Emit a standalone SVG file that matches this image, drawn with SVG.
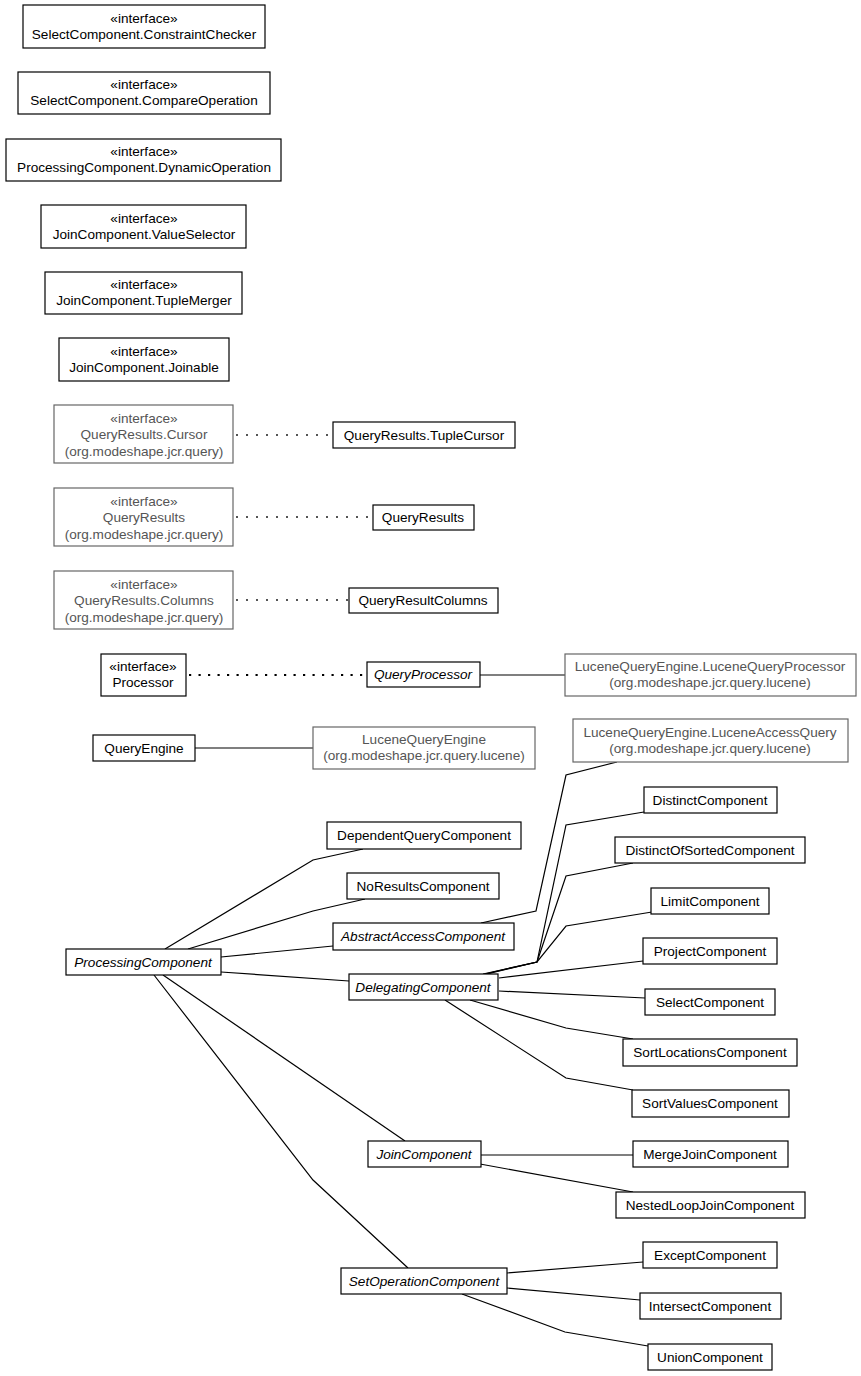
<svg xmlns="http://www.w3.org/2000/svg" width="861" height="1376" viewBox="0 0 861 1376">
<style>
text{font-family:"Liberation Sans",Arial,sans-serif;font-size:13.6px;text-anchor:middle;fill:#000}
.b{fill:#fff;stroke:#000;stroke-width:1.2}
.g{fill:#fff;stroke:#666;stroke-width:1.2}
.gt{fill:#555}
.i{font-style:italic}
.c{fill:none;stroke:#000;stroke-width:1.2}
.d{fill:none;stroke:#555;stroke-width:2;stroke-dasharray:2,8}
.d2{fill:none;stroke:#000;stroke-width:2.2;stroke-dasharray:2.2,7.3}
</style>
<rect width="861" height="1376" fill="#fff"/>
<g id="connectors">
<path class="d" d="M236,435H333"/>
<path class="d" d="M236,517H373"/>
<path class="d" d="M236,600H349"/>
<path class="d2" d="M189,675H367"/>
<path class="c" d="M480,675H565"/>
<path class="c" d="M195,748H313"/>
<path class="c" d="M165,949L313,860L363,849"/>
<path class="c" d="M188,949L313,911L365,899"/>
<path class="c" d="M221,957L333,946"/>
<path class="c" d="M221,972L349,981"/>
<path class="c" d="M163,975L405,1141"/>
<path class="c" d="M154,975L313,1180L408,1268"/>
<path class="c" d="M481,923L536,911L566,775L617,762"/>
<path class="c" d="M483,974L537,962L566,825L644,812"/>
<path class="c" d="M485,974L537,962L566,876L633,863"/>
<path class="c" d="M487,974L537,962L566,926L652,912"/>
<path class="c" d="M499,978L643,961"/>
<path class="c" d="M499,991L645,998"/>
<path class="c" d="M470,1000L566,1028L633,1039"/>
<path class="c" d="M445,1000L566,1078L633,1090"/>
<path class="c" d="M481,1155H633"/>
<path class="c" d="M480,1164L633,1192"/>
<path class="c" d="M507,1273L643,1262"/>
<path class="c" d="M507,1288L640,1300"/>
<path class="c" d="M462,1294L565,1332L648,1346"/>
</g>
<g id="n1"><rect class="b" x="23" y="5" width="242" height="43"/><text x="144" y="22.5">«interface»</text><text x="144" y="38.5">SelectComponent.ConstraintChecker</text></g>
<g id="n2"><rect class="b" x="18" y="72" width="252" height="42"/><text x="144" y="89">«interface»</text><text x="144" y="105">SelectComponent.CompareOperation</text></g>
<g id="n3"><rect class="b" x="6" y="139" width="275" height="42"/><text x="144" y="156">«interface»</text><text x="144" y="172">ProcessingComponent.DynamicOperation</text></g>
<g id="n4"><rect class="b" x="41" y="205" width="205" height="43"/><text x="144" y="222.5">«interface»</text><text x="144" y="238.5">JoinComponent.ValueSelector</text></g>
<g id="n5"><rect class="b" x="45" y="272" width="197" height="42"/><text x="144" y="289">«interface»</text><text x="144" y="305">JoinComponent.TupleMerger</text></g>
<g id="n6"><rect class="b" x="59" y="338" width="170" height="43"/><text x="144" y="355.5">«interface»</text><text x="144" y="371.5">JoinComponent.Joinable</text></g>
<g id="n7"><rect class="g" x="54" y="405" width="179" height="58"/><text class="gt" x="144" y="422.5">«interface»</text><text class="gt" x="144" y="439">QueryResults.Cursor</text><text class="gt" x="144" y="455.5">(org.modeshape.jcr.query)</text></g>
<g id="n8"><rect class="b" x="333" y="422" width="182" height="26"/><text x="424" y="439.5">QueryResults.TupleCursor</text></g>
<g id="n9"><rect class="g" x="54" y="488" width="179" height="58"/><text class="gt" x="144" y="505.5">«interface»</text><text class="gt" x="144" y="522">QueryResults</text><text class="gt" x="144" y="538.5">(org.modeshape.jcr.query)</text></g>
<g id="n10"><rect class="b" x="373" y="505" width="101" height="25"/><text x="423" y="522">QueryResults</text></g>
<g id="n11"><rect class="g" x="54" y="571" width="179" height="58"/><text class="gt" x="144" y="588.5">«interface»</text><text class="gt" x="144" y="605">QueryResults.Columns</text><text class="gt" x="144" y="621.5">(org.modeshape.jcr.query)</text></g>
<g id="n12"><rect class="b" x="349" y="588" width="149" height="25"/><text x="423" y="605">QueryResultColumns</text></g>
<g id="n13"><rect class="b" x="101" y="654" width="85" height="42"/><text x="143" y="671">«interface»</text><text x="143" y="687">Processor</text></g>
<g id="n14"><rect class="b" x="367" y="662" width="113" height="25"/><text class="i" x="423" y="679">QueryProcessor</text></g>
<g id="n15"><rect class="g" x="565" y="654" width="291" height="42"/><text class="gt" x="710" y="671">LuceneQueryEngine.LuceneQueryProcessor</text><text class="gt" x="710" y="687">(org.modeshape.jcr.query.lucene)</text></g>
<g id="n16"><rect class="b" x="93" y="735" width="102" height="26"/><text x="144" y="752.5">QueryEngine</text></g>
<g id="n17"><rect class="g" x="313" y="727" width="222" height="42"/><text class="gt" x="424" y="744">LuceneQueryEngine</text><text class="gt" x="424" y="760">(org.modeshape.jcr.query.lucene)</text></g>
<g id="n18"><rect class="g" x="573" y="719" width="275" height="43"/><text class="gt" x="710" y="736.5">LuceneQueryEngine.LuceneAccessQuery</text><text class="gt" x="710" y="752.5">(org.modeshape.jcr.query.lucene)</text></g>
<g id="n19"><rect class="b" x="644" y="787" width="133" height="26"/><text x="710" y="804.5">DistinctComponent</text></g>
<g id="n20"><rect class="b" x="327" y="822" width="194" height="27"/><text x="424" y="840">DependentQueryComponent</text></g>
<g id="n21"><rect class="b" x="615" y="837" width="190" height="26"/><text x="710" y="854.5">DistinctOfSortedComponent</text></g>
<g id="n22"><rect class="b" x="347" y="873" width="152" height="26"/><text x="423" y="890.5">NoResultsComponent</text></g>
<g id="n23"><rect class="b" x="651" y="888" width="118" height="26"/><text x="710" y="905.5">LimitComponent</text></g>
<g id="n24"><rect class="b" x="333" y="923" width="181" height="27"/><text class="i" x="423" y="941">AbstractAccessComponent</text></g>
<g id="n25"><rect class="b" x="643" y="938" width="134" height="26"/><text x="710" y="955.5">ProjectComponent</text></g>
<g id="n26"><rect class="b" x="66" y="949" width="155" height="26"/><text class="i" x="143" y="966.5">ProcessingComponent</text></g>
<g id="n27"><rect class="b" x="349" y="974" width="149" height="26"/><text class="i" x="423" y="991.5">DelegatingComponent</text></g>
<g id="n28"><rect class="b" x="645" y="989" width="130" height="26"/><text x="710" y="1006.5">SelectComponent</text></g>
<g id="n29"><rect class="b" x="623" y="1039" width="174" height="27"/><text x="710" y="1057">SortLocationsComponent</text></g>
<g id="n30"><rect class="b" x="632" y="1090" width="157" height="27"/><text x="710" y="1108">SortValuesComponent</text></g>
<g id="n31"><rect class="b" x="368" y="1141" width="113" height="26"/><text class="i" x="424" y="1158.5">JoinComponent</text></g>
<g id="n32"><rect class="b" x="633" y="1141" width="155" height="26"/><text x="710" y="1158.5">MergeJoinComponent</text></g>
<g id="n33"><rect class="b" x="616" y="1192" width="189" height="26"/><text x="710" y="1209.5">NestedLoopJoinComponent</text></g>
<g id="n34"><rect class="b" x="643" y="1242" width="134" height="26"/><text x="710" y="1259.5">ExceptComponent</text></g>
<g id="n35"><rect class="b" x="341" y="1268" width="166" height="26"/><text class="i" x="424" y="1285.5">SetOperationComponent</text></g>
<g id="n36"><rect class="b" x="640" y="1293" width="141" height="26"/><text x="710" y="1310.5">IntersectComponent</text></g>
<g id="n37"><rect class="b" x="648" y="1344" width="124" height="26"/><text x="710" y="1361.5">UnionComponent</text></g>
</svg>
